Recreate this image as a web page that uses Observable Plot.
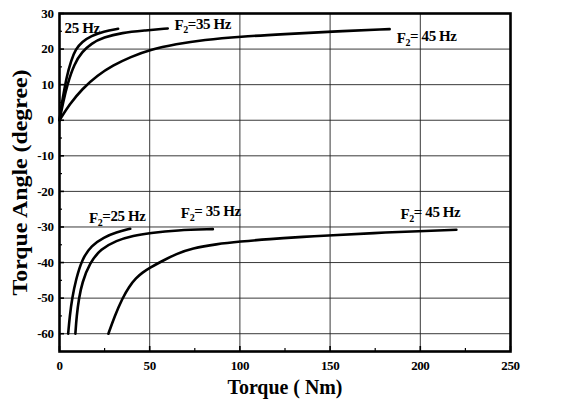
<!DOCTYPE html>
<html><head><meta charset="utf-8">
<script src="https://cdn.jsdelivr.net/npm/d3@7"></script>
<script src="https://cdn.jsdelivr.net/npm/@observablehq/plot@0.6"></script>
<style>body{margin:0;background:#fff}</style>
</head><body><div id="chart"></div>
<script>
// Torque (Nm) vs torque angle (degree)
const up25 = [[0,0],[1.2,4.5],[2.2,7.3],[3.9,12.1],[6.5,16.9],[9,20],[12.5,22.1],[17.6,23.7],[24.4,25],[32.5,25.7]];
const up35 = [[0,0],[2,5],[4.3,10],[8.2,15.9],[12.5,19.2],[17.6,21.6],[24.4,23.3],[34.6,24.6],[47,25.2],[60,25.8]];
const up45 = [[0,0],[5.6,4.5],[12.5,8.8],[21,12.6],[29.5,15.4],[39.5,17.8],[50,19.8],[64.6,21.4],[80,22.6],[100,23.5],[125,24.2],[150,24.9],[183,25.6]];
const lo25 = [[4.8,-60],[5.7,-55],[7,-50],[9.1,-44.8],[12.5,-39],[17.7,-35.2],[24.6,-32.9],[31.4,-31.5],[39.2,-30.5]];
const lo35 = [[8.8,-60],[9.5,-55],[10.8,-50],[12.5,-45.7],[16.8,-40],[22.9,-36.2],[31.4,-33.8],[41,-32.4],[50,-31.7],[65,-30.9],[85,-30.6]];
const lo45 = [[27.1,-60],[30.6,-55],[34.9,-50],[38.5,-46.8],[42.5,-44.3],[46,-42.8],[50,-41.5],[56,-39.8],[65,-37.5],[73.4,-36],[87,-34.8],[100,-34.1],[116,-33.4],[136,-32.75],[150,-32.35],[174,-31.7],[200,-31.15],[220,-30.8]];
const seriesNames = ["25 Hz","F2=35 Hz","F2= 45 Hz","F2=25 Hz","F2= 35 Hz","F2= 45 Hz"];
const xTitle = "Torque ( Nm)";
const yTitle = "Torque Angle (degree)";
const xTicks = [0,50,100,150,200,250];
const xMinor = [25,75,125,175,225];
const xGrid = [50,100,150,200];
const yTicks = [30,20,10,0,-10,-20,-30,-40,-50,-60];
const yMinor = [25,15,5,-5,-15,-25,-35,-45,-55];
const yGrid = [20,10,0,-10,-20,-30,-40,-50,-60];

const W = 565, H = 405, mL = 59, mR = 55, mT = 13, mB = 54;
const iw = W - mL - mR, ih = H - mT - mB;
const font = "Liberation Serif, Times New Roman, serif";
const line = (d) => Plot.line(d, {x: p => p[0], y: p => p[1], curve: "basis", stroke: "#000", strokeWidth: 2.6});
const lab = (d, name, dx, dy) => Plot.text(d, Plot.selectLast({x: p => p[0], y: p => p[1], text: () => name, dx, dy,
  textAnchor: "middle", lineAnchor: "middle", fontSize: 15, fontWeight: "bold", fill: "#000"}));

const chart = Plot.plot({
  width: W, height: H, marginLeft: mL, marginRight: mR, marginTop: mT, marginBottom: mB,
  style: {fontFamily: font, fontWeight: "bold", fontSize: "13px", color: "#000", background: "#fff"},
  x: {domain: [0, 250]},
  y: {domain: [-65, 30]},
  marks: [
    Plot.gridX(xGrid, {stroke: "#222", strokeOpacity: 1, strokeWidth: 0.9}),
    Plot.gridY(yGrid, {stroke: "#222", strokeOpacity: 1, strokeWidth: 0.9}),
    Plot.tickX(xTicks, {x: d => d, insetTop: ih - 5, stroke: "#000", strokeWidth: 1.6}),
    Plot.tickX(xMinor, {x: d => d, insetTop: ih - 3, stroke: "#000", strokeWidth: 1.2}),
    Plot.tickY(yTicks, {y: d => d, insetRight: iw - 5, stroke: "#000", strokeWidth: 1.6}),
    Plot.tickY(yMinor, {y: d => d, insetRight: iw - 3, stroke: "#000", strokeWidth: 1.2}),
    Plot.axisX({ticks: xTicks, tickSize: 0, tickPadding: 9, tickFormat: d => String(d), label: null, fontSize: 13}),
    Plot.axisY({ticks: yTicks, tickSize: 0, tickPadding: 6, tickFormat: d => String(d), label: null, fontSize: 13}),
    line(up25), line(up35), line(up45), line(lo25), line(lo35), line(lo45),
    lab(up25, seriesNames[0], -36, -1),
    lab(up35, seriesNames[1], 35, -3),
    lab(up45, seriesNames[2], 37, 9),
    lab(lo25, seriesNames[3], -13, -11),
    lab(lo35, seriesNames[4], -2, -16),
    lab(lo45, seriesNames[5], -26, -16),
    Plot.text([xTitle], {frameAnchor: "bottom", dy: 36, textAnchor: "middle", lineAnchor: "middle", fontSize: 21, fontWeight: "bold", fill: "#000"}),
    Plot.text([yTitle], {frameAnchor: "left", dx: -40, rotate: -90, textAnchor: "middle", lineAnchor: "middle", fontSize: 22, fontWeight: "bold", fill: "#000"}),
    Plot.frame({stroke: "#000", strokeWidth: 2.6})
  ]
});
const svg = d3.select(chart);
svg.selectAll("text").style("letter-spacing", "-0.4px");
// subscript for F2 labels, stretch titles
svg.selectAll("text").each(function() {
  const t = d3.select(this);
  const s = t.text();
  if (s === xTitle) { t.attr("textLength", 115).attr("lengthAdjust", "spacingAndGlyphs").style("letter-spacing", null); }
  else if (s === yTitle) { t.attr("textLength", 226).attr("lengthAdjust", "spacingAndGlyphs").style("letter-spacing", null); }
  else if (s.startsWith("F2")) {
    t.text(null);
    t.append("tspan").text("F");
    t.append("tspan").attr("dy", "0.3em").attr("font-size", "10px").text("2");
    t.append("tspan").attr("dy", "-0.3em").text(s.slice(2));
  }
});
document.getElementById("chart").appendChild(chart);
</script>
</body></html>
